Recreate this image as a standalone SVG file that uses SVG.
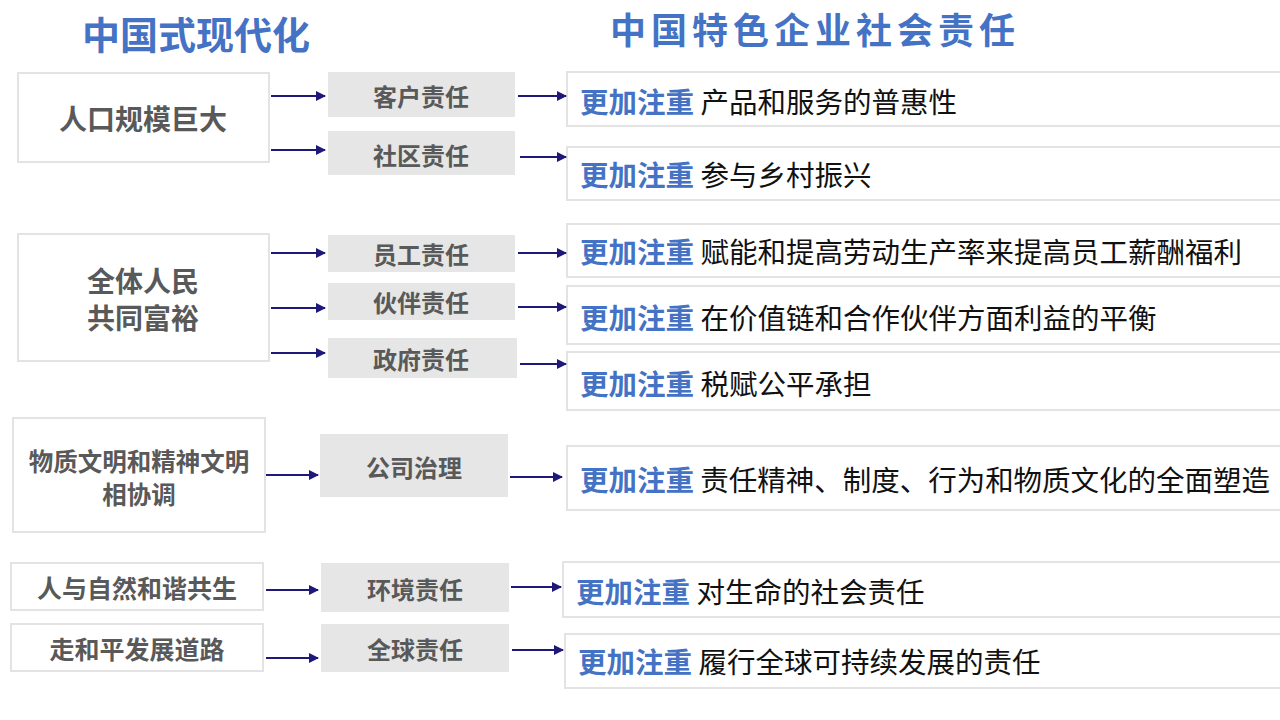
<svg xmlns="http://www.w3.org/2000/svg" width="1280" height="720" viewBox="0 0 1280 720">
<defs>
<marker id="ah" viewBox="0 0 10 10" refX="9" refY="5" markerWidth="10" markerHeight="10" markerUnits="userSpaceOnUse" orient="auto">
<path d="M0,0 L10,5 L0,10 z" fill="#1e1878"/>
</marker>
<style>
text{font-family:"Noto Sans CJK SC","Noto Sans",sans-serif}
.title{font-size:38px;font-weight:bold;fill:#4472c4}
.lbox{fill:#fff;stroke:#e3e3e3;stroke-width:2}
.ltxt{font-size:26px;font-weight:bold;fill:#595959;text-anchor:middle;dominant-baseline:central}
.mbox{fill:#e6e6e6}
.mtxt{font-size:24px;font-weight:bold;fill:#595959;text-anchor:middle;dominant-baseline:central}
.rbox{fill:#fff;stroke:#e3e3e3;stroke-width:2}
.rtxt{font-size:28.5px;fill:#111;dominant-baseline:central}
.em{font-weight:bold;fill:#4472c4}
.conn line{stroke:#1e1878;stroke-width:2;marker-end:url(#ah)}
</style>
</defs>
<rect width="1280" height="720" fill="#fff"/>
<text class="title" x="82" y="49">中国式现代化</text>
<text class="title" x="610" y="44" style="font-size:36px;letter-spacing:5px">中国特色企业社会责任</text>

<g id="l1"><rect class="lbox" x="18" y="73" width="251" height="89"/><text class="ltxt" x="143" y="118" style="font-size:28px">人口规模巨大</text></g>
<g id="l2"><rect class="lbox" x="18" y="234" width="251" height="127"/><text class="ltxt" x="143" y="280" style="font-size:28px">全体人民</text><text class="ltxt" x="143" y="317" style="font-size:28px">共同富裕</text></g>
<g id="l3"><rect class="lbox" x="13" y="418" width="252" height="114"/><text class="ltxt" x="139" y="460" style="font-size:24.5px">物质文明和精神文明</text><text class="ltxt" x="139" y="493" style="font-size:24.5px">相协调</text></g>
<g id="l4"><rect class="lbox" x="11" y="563" width="252" height="47"/><text class="ltxt" x="137" y="587" style="font-size:25px">人与自然和谐共生</text></g>
<g id="l5"><rect class="lbox" x="11" y="624" width="252" height="47"/><text class="ltxt" x="137" y="648" style="font-size:25px">走和平发展道路</text></g>

<g id="m1"><rect class="mbox" x="328" y="72" width="187" height="45"/><text class="mtxt" x="421" y="95">客户责任</text></g>
<g id="m2"><rect class="mbox" x="328" y="131" width="187" height="44"/><text class="mtxt" x="421" y="154">社区责任</text></g>
<g id="m3"><rect class="mbox" x="328" y="235" width="187" height="37"/><text class="mtxt" x="421" y="253">员工责任</text></g>
<g id="m4"><rect class="mbox" x="328" y="283" width="187" height="37"/><text class="mtxt" x="421" y="301">伙伴责任</text></g>
<g id="m5"><rect class="mbox" x="328" y="338" width="189" height="40"/><text class="mtxt" x="421" y="358">政府责任</text></g>
<g id="m6"><rect class="mbox" x="320" y="434" width="188" height="63"/><text class="mtxt" x="414" y="466">公司治理</text></g>
<g id="m7"><rect class="mbox" x="321" y="563" width="188" height="49"/><text class="mtxt" x="415" y="588">环境责任</text></g>
<g id="m8"><rect class="mbox" x="321" y="624" width="188" height="48"/><text class="mtxt" x="415" y="648">全球责任</text></g>

<g id="r1"><rect class="rbox" x="567" y="72" width="720" height="54"/><text class="rtxt" x="580" y="100"><tspan class="em">更加注重</tspan> 产品和服务的普惠性</text></g>
<g id="r2"><rect class="rbox" x="567" y="147" width="720" height="53"/><text class="rtxt" x="580" y="173"><tspan class="em">更加注重</tspan> 参与乡村振兴</text></g>
<g id="r3"><rect class="rbox" x="567" y="224" width="720" height="53"/><text class="rtxt" x="580" y="250"><tspan class="em">更加注重</tspan> 赋能和提高劳动生产率来提高员工薪酬福利</text></g>
<g id="r4"><rect class="rbox" x="567" y="286" width="720" height="58"/><text class="rtxt" x="580" y="316"><tspan class="em">更加注重</tspan> 在价值链和合作伙伴方面利益的平衡</text></g>
<g id="r5"><rect class="rbox" x="567" y="352" width="720" height="58"/><text class="rtxt" x="580" y="382"><tspan class="em">更加注重</tspan> 税赋公平承担</text></g>
<g id="r6"><rect class="rbox" x="567" y="446" width="720" height="64"/><text class="rtxt" x="580" y="478" textLength="690" lengthAdjust="spacing"><tspan class="em">更加注重</tspan> 责任精神、制度、行为和物质文化的全面塑造</text></g>
<g id="r7"><rect class="rbox" x="563" y="562" width="724" height="55"/><text class="rtxt" x="576" y="590"><tspan class="em">更加注重</tspan> 对生命的社会责任</text></g>
<g id="r8"><rect class="rbox" x="565" y="634" width="722" height="54"/><text class="rtxt" x="578" y="660"><tspan class="em">更加注重</tspan> 履行全球可持续发展的责任</text></g>

<g class="conn" id="connectors">
<line x1="271" y1="96" x2="325" y2="96"/>
<line x1="271" y1="150" x2="325" y2="150"/>
<line x1="518" y1="96" x2="566" y2="96"/>
<line x1="520" y1="157" x2="566" y2="157"/>
<line x1="271" y1="253" x2="325" y2="253"/>
<line x1="271" y1="308" x2="325" y2="308"/>
<line x1="271" y1="353" x2="325" y2="353"/>
<line x1="518" y1="253" x2="566" y2="253"/>
<line x1="518" y1="307" x2="566" y2="307"/>
<line x1="520" y1="364" x2="566" y2="364"/>
<line x1="266" y1="475" x2="318" y2="475"/>
<line x1="510" y1="477" x2="562" y2="477"/>
<line x1="266" y1="590" x2="318" y2="590"/>
<line x1="511" y1="587" x2="561" y2="587"/>
<line x1="266" y1="658" x2="318" y2="658"/>
<line x1="512" y1="650" x2="563" y2="650"/>
</g>
</svg>
